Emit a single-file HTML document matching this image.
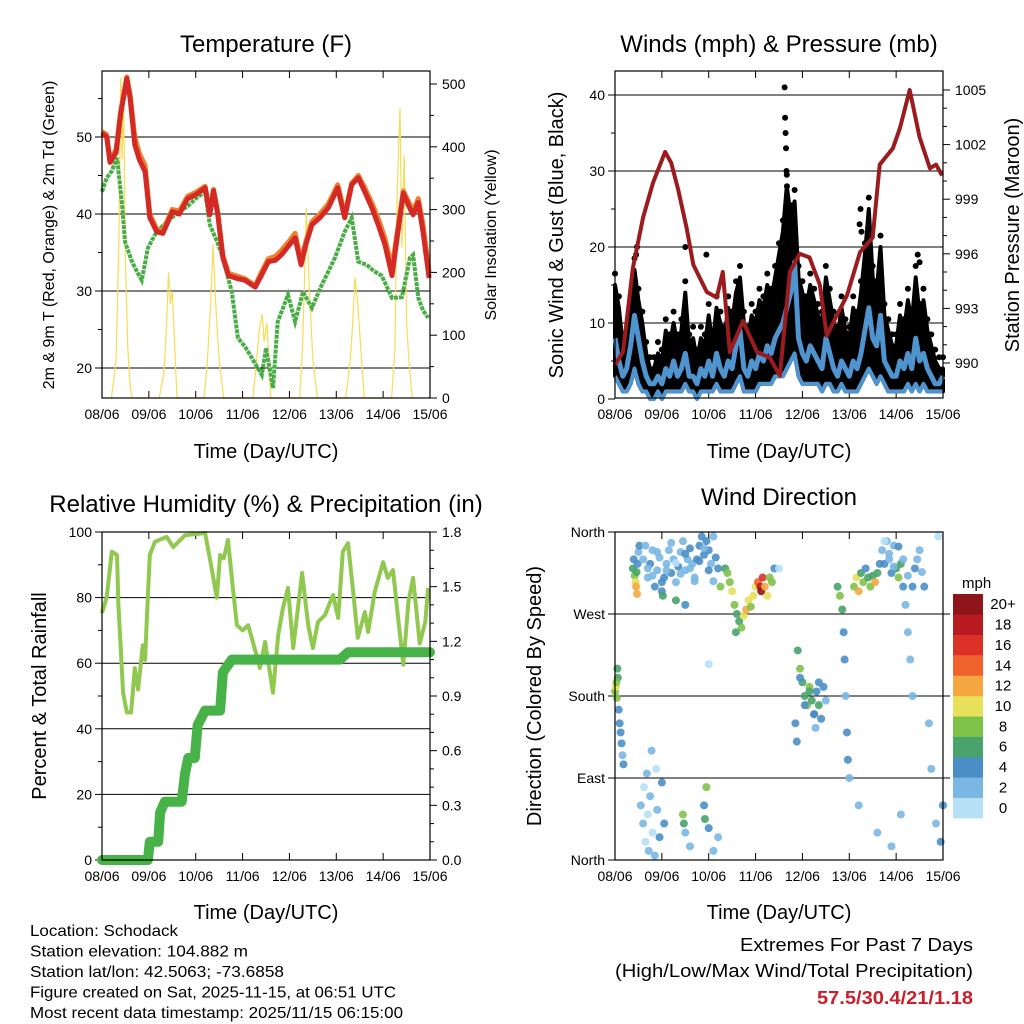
<!DOCTYPE html>
<html><head><meta charset="utf-8">
<style>
html,body{margin:0;padding:0;background:#fff;}
svg{display:block;font-family:"Liberation Sans",Arial,sans-serif;}
</style></head>
<body>
<svg id="chart" width="1024" height="1024" viewBox="0 0 1024 1024" xmlns="http://www.w3.org/2000/svg">
<rect width="1024" height="1024" fill="#fff"/>
<g id="layer"></g>
<text x="266" y="52" font-size="24" text-anchor="middle">Temperature (F)</text>
<text x="779" y="52" font-size="24" text-anchor="middle">Winds (mph) &amp; Pressure (mb)</text>
<text x="266" y="512" font-size="24" text-anchor="middle">Relative Humidity (%) &amp; Precipitation (in)</text>
<text x="779" y="505" font-size="24" text-anchor="middle">Wind Direction</text>
<text x="266" y="458" font-size="20" text-anchor="middle">Time (Day/UTC)</text>
<text x="779" y="458" font-size="20" text-anchor="middle">Time (Day/UTC)</text>
<text x="266" y="919" font-size="20" text-anchor="middle">Time (Day/UTC)</text>
<text x="779" y="919" font-size="20" text-anchor="middle">Time (Day/UTC)</text>
<text transform="translate(54,235) rotate(-90)" font-size="16" text-anchor="middle">2m &amp; 9m T (Red, Orange) &amp; 2m Td (Green)</text>
<text transform="translate(496,235) rotate(-90)" font-size="16" text-anchor="middle">Solar Insolation (Yellow)</text>
<text transform="translate(563,235) rotate(-90)" font-size="20" text-anchor="middle">Sonic Wind &amp; Gust (Blue, Black)</text>
<text transform="translate(1019,235) rotate(-90)" font-size="20" text-anchor="middle">Station Pressure (Maroon)</text>
<text transform="translate(46,696) rotate(-90)" font-size="20" text-anchor="middle">Percent &amp; Total Rainfall</text>
<text transform="translate(541,696) rotate(-90)" font-size="20" text-anchor="middle">Direction (Colored By Speed)</text>
<g font-size="16">
<text x="30" y="936" textLength="148" lengthAdjust="spacingAndGlyphs">Location: Schodack</text>
<text x="30" y="956.5" textLength="218" lengthAdjust="spacingAndGlyphs">Station elevation: 104.882 m</text>
<text x="30" y="977" textLength="254" lengthAdjust="spacingAndGlyphs">Station lat/lon: 42.5063; -73.6858</text>
<text x="30" y="997.5" textLength="366" lengthAdjust="spacingAndGlyphs">Figure created on Sat, 2025-11-15, at 06:51 UTC</text>
<text x="30" y="1018" textLength="373" lengthAdjust="spacingAndGlyphs">Most recent data timestamp: 2025/11/15 06:15:00</text>
</g>
<g font-size="18" text-anchor="end">
<text x="973" y="951" textLength="233" lengthAdjust="spacingAndGlyphs">Extremes For Past 7 Days</text>
<text x="973" y="977" textLength="358" lengthAdjust="spacingAndGlyphs">(High/Low/Max Wind/Total Precipitation)</text>
<text x="973" y="1004" fill="#c8202a" font-weight="bold" textLength="156" lengthAdjust="spacingAndGlyphs">57.5/30.4/21/1.18</text>
</g>
</svg>
<script>
// ---------- DATA ----------
const dayLabels = ["08/06","09/06","10/06","11/06","12/06","13/06","14/06","15/06"];
const tempTicks = [20,30,40,50];
const solarTicks = [0,100,200,300,400,500];
const windTicks = [0,10,20,30,40];
const pressTicks = [990,993,996,999,1002,1005];
const rhTicks = [0,20,40,60,80,100];
const rainTicks = ["0.0","0.3","0.6","0.9","1.2","1.5","1.8"];
const dirTicks = ["North","East","South","West","North"];
const speedLabels = ["0","2","4","6","8","10","12","14","16","18","20+"];

const tempT = [0,0.1,0.17,0.3,0.4,0.53,0.6,0.7,0.8,0.92,1.02,1.17,1.3,1.5,1.65,1.83,2.0,2.2,2.3,2.38,2.47,2.58,2.7,2.9,3.05,3.27,3.4,3.55,3.7,3.83,4.0,4.12,4.25,4.35,4.48,4.65,4.83,5.03,5.18,5.33,5.47,5.6,5.76,5.9,6.04,6.19,6.3,6.43,6.55,6.64,6.75,6.85,6.98];
const temp2m = [50.5,50,46.7,48,53,57.6,55,49,47,45.5,39.5,37.7,37.5,40.3,40,42,42.5,43.4,39.9,43,40,34.3,32,31.6,31.4,30.5,32,33.8,34,34.7,36,36.9,33.4,36,38.6,39.5,40.8,43.4,39.5,43.8,44.7,43,40.8,38.5,36,32,37,42.7,41,39.9,41.5,37.7,31.7];
const temp9m = [50.7,50.3,47,48.4,53.4,57.8,55.5,50,47.8,46.3,40,38,37.8,40.6,40.4,42.3,42.8,43.6,40.2,43.2,40.3,34.6,32.3,31.9,31.6,30.7,32.4,34.2,34.5,35.3,36.5,37.5,33.9,36.4,39,40,41.3,43.8,40,44,45,43.5,41.4,39.3,36.8,33,37.6,43,41.5,40.4,42,38.6,32.4];
const dewT = [0,0.1,0.2,0.32,0.43,0.49,0.64,0.75,0.85,0.98,1.13,1.3,1.49,1.65,1.83,2.0,2.2,2.3,2.45,2.56,2.77,2.9,3.05,3.2,3.41,3.5,3.65,3.75,3.97,4.12,4.29,4.48,4.69,4.97,5.18,5.33,5.47,5.65,5.8,5.97,6.19,6.4,6.57,6.64,6.75,6.85,6.96];
const dewVal = [42.9,44.7,45.5,47.3,41.2,36.4,33.8,32.5,31.4,35.6,37.3,38.5,39.5,40.3,41,42,42.9,38.6,36.5,34.7,29.9,23.9,22.8,21.3,19.1,22.6,17.4,26,29.5,26,29.9,27.8,30.8,34.3,37.7,39.5,33.8,33.4,32.6,32,29.1,29.2,34.3,34.7,29.1,27.5,26.5];
const solarT = [0.2,0.3,0.36,0.4,0.43,0.46,0.5,0.55,0.6,0.64, 1.22,1.32,1.38,1.42,1.46,1.5,1.6, 2.18,2.25,2.32,2.37,2.42,2.5,2.6, 3.22,3.3,3.36,3.42,3.46,3.52,3.6, 4.22,4.28,4.32,4.36,4.42,4.5,4.6, 5.2,5.3,5.35,5.4,5.46,5.52,5.6, 6.18,6.25,6.3,6.36,6.4,6.45,6.5,6.55,6.62];
const solarVal = [0,60,250,510,380,480,220,80,20,0, 0,40,120,200,150,170,0, 0,60,150,245,160,60,0, 0,60,110,133,90,120,0, 0,80,180,303,180,60,0, 0,60,120,192,150,80,0, 0,80,330,462,240,387,120,60,0];
const windT = Array.from({length:85},(_,i)=>i/12);
const windSpd = [8,5,3,4,7,11,8,5,3,2,2,3, 2,4,3,5,3,4,6,3,3,2,4,3, 5,3,6,4,3,5,4,7,9,4,3,5, 4,6,5,7,6,8,9,10,12,14,18,8, 6,5,7,6,5,4,8,6,4,3,5,4, 3,5,4,6,9,12,8,7,11,5,4,3, 3,5,4,6,4,8,5,6,4,3,2,2, 3];
const windLow = [3,2,1,1,2,4,2,1,1,0,0,1, 0,1,1,1,1,1,2,1,1,0,1,1, 1,1,2,1,1,1,1,2,3,1,1,1, 1,2,2,2,2,3,3,3,4,5,6,3, 2,2,2,2,2,1,2,2,1,1,2,1, 1,1,1,2,3,4,3,2,3,2,1,1, 1,1,1,2,1,2,1,2,1,1,1,1, 1];
const gustSpd = [15,12,7,6,12,17,13,10,6,4,4,6, 5,9,7,10,7,9,14,7,8,5,8,7, 11,7,12,10,8,12,10,14,16,10,8,11, 10,13,12,15,13,16,19,22,28,24,26,16, 14,12,15,13,11,10,16,13,10,8,12,9, 8,12,10,14,19,25,16,14,20,11,9,7, 7,11,9,13,10,16,11,13,9,7,5,4, 4];
const peakGustT = [3.62,3.63,3.64,3.65,3.66,3.67,0.45,0.47,1.5,1.95,5.22,5.24,5.26,6.46,6.5];
const peakGustV = [41,37,35,33,30,28,19,20,20,19,23,25,22,19,18];
const pressT = [0,0.17,0.38,0.6,0.81,1.07,1.2,1.35,1.53,1.67,1.96,2.17,2.3,2.45,2.73,3.03,3.3,3.52,3.73,3.94,4.15,4.37,4.52,4.73,4.95,5.23,5.5,5.65,5.93,6.08,6.29,6.5,6.72,6.85,6.98];
const pressVal = [989.9,990.6,995.2,998,999.9,1001.6,1001,999.5,997.4,995.4,993.9,993.6,995,990.6,992.3,990.6,990.3,989.3,995,996,995.8,994.3,991.5,992.6,993.7,996.1,996.9,1000.9,1001.8,1002.9,1005,1002.4,1000.7,1000.9,1000.3];
const rhT = [0,0.1,0.21,0.32,0.35,0.45,0.53,0.62,0.7,0.77,0.87,0.92,0.96,1.02,1.13,1.38,1.52,1.77,2.2,2.3,2.45,2.52,2.6,2.69,2.77,2.88,3.0,3.12,3.22,3.37,3.48,3.65,3.76,3.86,3.97,4.08,4.27,4.4,4.5,4.61,4.76,4.93,5.04,5.14,5.25,5.36,5.46,5.61,5.68,5.82,6.0,6.1,6.21,6.32,6.43,6.54,6.64,6.78,6.9,6.96];
const rhVal = [75.3,80,94,93,77.8,51,45,45,58.5,52,65.5,61,74.7,93,97,98.5,95.4,99,99.7,92,80,93,92,97.6,86,71.6,70,71.6,66.5,58.5,66.5,51,68.6,76.8,83,64.6,87.5,71.6,64.6,72.6,74.7,80.8,73.8,94,96.6,81.7,67.7,75.6,69.5,81.7,90.8,86,88.4,73.8,59.5,78.7,86,66,72.6,83];
const rainT = [0,0.98,1.02,1.2,1.24,1.34,1.7,1.77,1.84,1.98,2.04,2.2,2.52,2.58,2.77,5.08,5.25,7.0];
const rainVal = [0,0,0.1,0.1,0.26,0.32,0.32,0.47,0.56,0.56,0.74,0.82,0.82,1.03,1.1,1.1,1.14,1.14];
const dirT = [0,0.02,0.04,0.06,0.08,0.1,0.12,0.14,0.16,0.18,0.05,0.03,
0.38,0.4,0.42,0.44,0.45,0.46,0.48,0.5,0.52,0.47,
0.55,0.6,0.62,0.65,0.7,0.72,0.75,0.8,0.85,0.9,0.95,1.0,1.05,0.68,0.78,0.88,
0.6,0.65,0.7,0.75,0.8,0.85,0.9,0.95,1.0,1.05,1.1,1.15,1.2,1.25,1.3,1.35,1.4,1.45,1.5,1.55,1.6,1.65,1.7,1.75,1.8,1.85,1.9,1.95,2.0,2.05,2.1,2.15,2.2,1.02,1.3,2.25,
1.45,1.47,1.5,1.6,1.9,1.92,1.95,2.0,2.1,2.2,
2.35,2.4,2.45,2.5,2.55,2.6,2.65,2.7,2.75,2.8,2.85,2.9,2.95,3.0,2.58,
3.05,3.1,3.12,3.15,3.2,3.25,3.3,3.35,3.4,
3.9,3.95,4.0,4.05,4.1,4.15,4.2,4.25,4.3,4.35,4.4,4.45,4.5,3.85,3.88,4.28,
4.75,4.8,4.85,4.88,4.9,4.92,4.95,4.97,5.0,
5.1,5.15,5.2,5.25,5.3,5.35,5.4,5.45,5.5,5.55,5.6,5.65,
5.7,5.75,5.8,5.85,5.9,5.95,6.0,6.05,6.1,6.15,6.2,6.25,6.3,6.35,6.4,
6.5,6.6,6.7,6.75,6.85,6.9,6.95,7.0,5.2,5.6,5.9,6.1,2.0,1.5,3.5,
0.7,0.8,0.9,1.0,1.1,1.2,1.3,1.4,1.5,1.6,1.7,1.8,1.9,2.0,2.1,5.75,5.85,5.95,6.05,6.15,6.25,6.35,6.45,6.55,3.95,4.05,4.15,4.25,4.35];
const dirDeg = [185,190,178,200,165,150,140,128,115,105,210,195,
320,330,312,305,300,316,325,338,345,292,
60,40,80,20,50,10,70,30,5,55,25,85,40,95,120,100,
330,345,310,325,340,300,318,332,295,310,325,340,315,330,305,322,338,350,318,330,342,325,310,330,345,355,335,350,340,325,355,332,320,290,285,300,
50,40,30,15,60,45,80,35,10,25,
320,315,305,295,280,270,262,255,268,275,285,278,290,300,250,
305,300,295,310,300,290,310,305,320,
230,210,195,180,170,190,175,160,185,170,155,190,175,150,130,145,
300,290,275,250,220,180,140,110,90,
300,310,295,315,305,320,310,300,312,305,315,325,
340,325,350,330,315,345,320,310,325,300,280,250,220,180,320,
340,300,150,100,40,355,20,60,60,30,15,50,215,280,320,
320,312,338,305,318,348,326,314,336,320,306,328,342,318,306,350,336,322,344,330,312,300,330,316,200,170,185,160,195];
const dirSpd = [9,10,8,7,5,4,4,4,3,4,6,8,
6,5,8,10,12,7,4,3,4,12,
2,2,1,1,0,3,2,1,3,2,4,4,4,2,2,1,
2,2,3,4,2,4,3,2,5,4,3,2,4,3,2,4,3,2,3,2,4,3,2,4,5,4,4,5,4,3,2,4,5,7,6,9,
8,6,3,2,4,6,8,4,2,3,
6,8,9,10,8,7,6,8,10,12,11,9,10,11,6,
14,18,20,16,12,10,9,8,4,
6,8,7,6,8,9,7,5,4,6,4,5,3,4,4,3,
6,8,6,4,4,3,4,4,3,
8,10,12,6,8,4,6,8,7,12,6,4,
2,4,2,3,5,3,6,8,7,4,3,2,2,2,5,
2,4,2,2,2,1,4,4,2,2,2,3,1,4,1,
2,3,2,4,2,3,1,2,4,3,2,4,3,5,2,1,3,2,4,2,3,4,2,3,5,4,6,5,4];
const speedColors = ["#b5e0f6","#7ab7e3","#4a8ec6","#48a46a","#7fc24a","#e7e05a","#f6a640","#f0622b","#dc3127","#b81b22","#8e1518"];

// ---------- HELPERS ----------
const NS="http://www.w3.org/2000/svg";
const layer=document.getElementById('layer');
function mk(tag,attrs,parent){const e=document.createElementNS(NS,tag);for(const k in attrs)e.setAttribute(k,attrs[k]);(parent||layer).appendChild(e);return e;}
function lin(d0,d1,r0,r1){return v=>r0+(v-d0)*(r1-r0)/(d1-d0);}
function pathFrom(xs,ys,sx,sy){return xs.map((t,i)=>(i?'L':'M')+sx(t).toFixed(1)+','+sy(ys[i]).toFixed(1)).join('');}
function txt(x,y,s,size,anchor,parent){const e=mk('text',{x:x,y:y,'font-size':size,'text-anchor':anchor||'middle'},parent);e.textContent=s;return e;}

function frame(L,T,R,B,name){
  const g=mk('g',{});
  
  
  const sx=lin(0,7,L,R);
  for(let i=0;i<dayLabels.length;i++){
    const x=sx(i);
    mk('line',{x1:x,y1:B,x2:x,y2:B-7,stroke:'#000','stroke-width':1},g);
    mk('line',{x1:x,y1:T,x2:x,y2:T+7,stroke:'#000','stroke-width':1},g);
    const lb=txt(x,B+21,dayLabels[i],14,'middle',g);
    
    
  }
  return {g,sx};
}
function border(L,T,R,B,g){mk('rect',{x:L,y:T,width:R-L,height:B-T,fill:'none',stroke:'#000','stroke-width':1.2},g);}

// ---------- PANEL 1: TEMPERATURE ----------
(function(){
  const L=102,T=71,R=430,B=398;
  const f=frame(L,T,R,B,'temperature-panel');const g=f.g,sx=f.sx;
  const sy=lin(20,50,368,137), ss=lin(0,500,398,84);
  tempTicks.forEach(v=>{mk('line',{x1:L,x2:R,y1:sy(v),y2:sy(v),stroke:'#000','stroke-width':1},g);mk('line',{x1:L-7,x2:L,y1:sy(v),y2:sy(v),stroke:'#000'},g);
    const l=txt(L-10,sy(v)+5,String(v),14,'end',g);
    mk('line',{x1:L-4,x2:L,y1:sy(v+5),y2:sy(v+5),stroke:'#000'},g);});
  solarTicks.forEach(v=>{mk('line',{x1:R,x2:R+7,y1:ss(v),y2:ss(v),stroke:'#000'},g);
    const l=txt(R+12,ss(v)+5,String(v),14,'start',g);
    if(v<500)mk('line',{x1:R,x2:R+4,y1:ss(v+50),y2:ss(v+50),stroke:'#000'},g);});
  const sol=mk('path',{d:pathFrom(solarT,solarVal,sx,ss),fill:'none',stroke:'#f7dc55','stroke-width':1.2},g);
  
  const d=mk('path',{d:pathFrom(dewT,dewVal,sx,sy),fill:'none',stroke:'#49ad45','stroke-width':4,'stroke-dasharray':'4 1'},g);
  
  const o=mk('path',{d:pathFrom(tempT,temp9m,sx,sy),fill:'none',stroke:'#f07f2e','stroke-width':5,'stroke-linejoin':'round'},g);
  
  const r=mk('path',{d:pathFrom(tempT,temp2m,sx,sy),fill:'none',stroke:'#d42a26','stroke-width':5,'stroke-linejoin':'round'},g);
  
  border(L,T,R,B,g);
})();

// ---------- PANEL 2: WINDS ----------
(function(){
  const L=615,T=71,R=943,B=398;
  const f=frame(L,T,R,B,'winds-panel');const g=f.g,sx=f.sx;
  const sy=lin(0,40,399,95), sp=lin(990,1005,363,90);
  windTicks.forEach(v=>{if(v>0)mk('line',{x1:L,x2:R,y1:sy(v),y2:sy(v),stroke:'#000'},g);mk('line',{x1:L-7,x2:L,y1:sy(v),y2:sy(v),stroke:'#000'},g);
    const l=txt(L-10,sy(v)+5,String(v),14,'end',g);
    if(v<40)mk('line',{x1:L-4,x2:L,y1:sy(v+5),y2:sy(v+5),stroke:'#000'},g);});
  pressTicks.forEach(v=>{mk('line',{x1:R,x2:R+7,y1:sp(v),y2:sp(v),stroke:'#000'},g);
    const l=txt(R+12,sp(v)+5,String(v),14,'start',g);
    if(v<1005){mk('line',{x1:R,x2:R+4,y1:sp(v+1),y2:sp(v+1),stroke:'#000'},g);mk('line',{x1:R,x2:R+4,y1:sp(v+2),y2:sp(v+2),stroke:'#000'},g);}});
  const top=pathFrom(windT,gustSpd,sx,sy);
  const bot=windT.slice().reverse().map((t,i)=>'L'+sx(t).toFixed(1)+','+sy(windLow[windLow.length-1-i]).toFixed(1)).join('');
  const area=mk('path',{d:top+bot+'Z',fill:'#000',stroke:'#000','stroke-width':4,'stroke-linejoin':'round'},g);
  
  windT.forEach((t,i)=>{const c=mk('circle',{cx:sx(t),cy:sy(gustSpd[i]+1.5),r:3,fill:'#000'},g);
    });
  peakGustT.forEach((t,i)=>{const c=mk('circle',{cx:sx(t),cy:sy(peakGustV[i]),r:3,fill:'#000'},g);
    });
  const w=mk('path',{d:pathFrom(windT,windSpd,sx,sy),fill:'none',stroke:'#4f94cf','stroke-width':5,'stroke-linejoin':'round'},g);
  
  const wl=mk('path',{d:pathFrom(windT,windLow,sx,sy),fill:'none',stroke:'#4f94cf','stroke-width':4,'stroke-linejoin':'round'},g);
  
  const p=mk('path',{d:pathFrom(pressT,pressVal,sx,sp),fill:'none',stroke:'#9a1c1f','stroke-width':4,'stroke-linejoin':'round'},g);
  
  border(L,T,R,B,g);
})();

// ---------- PANEL 3: RH & RAIN ----------
(function(){
  const L=102,T=532,R=430,B=860;
  const f=frame(L,T,R,B,'humidity-panel');const g=f.g,sx=f.sx;
  const sy=lin(0,100,860,532), sr=lin(0,1.8,860,532);
  rhTicks.forEach(v=>{if(v>0&&v<100)mk('line',{x1:L,x2:R,y1:sy(v),y2:sy(v),stroke:'#000'},g);mk('line',{x1:L-7,x2:L,y1:sy(v),y2:sy(v),stroke:'#000'},g);
    const l=txt(L-10,sy(v)+5,String(v),14,'end',g);
    if(v<100)mk('line',{x1:L-4,x2:L,y1:sy(v+10),y2:sy(v+10),stroke:'#000'},g);});
  rainTicks.forEach((s,i)=>{const y=sr(i*0.3);mk('line',{x1:R,x2:R+7,y1:y,y2:y,stroke:'#000'},g);
    const l=txt(R+12,y+5,s,14,'start',g);
    if(i<6){mk('line',{x1:R,x2:R+4,y1:sr(i*0.3+0.1),y2:sr(i*0.3+0.1),stroke:'#000'},g);mk('line',{x1:R,x2:R+4,y1:sr(i*0.3+0.2),y2:sr(i*0.3+0.2),stroke:'#000'},g);}});
  const rh=mk('path',{d:pathFrom(rhT,rhVal,sx,sy),fill:'none',stroke:'#90c850','stroke-width':4,'stroke-linejoin':'round'},g);
  
  const rn=mk('path',{d:pathFrom(rainT,rainVal,sx,sr),fill:'none',stroke:'#47b247','stroke-width':10,'stroke-linejoin':'round','stroke-linecap':'round'},g);
  
  border(L,T,R,B,g);
})();

// ---------- PANEL 4: WIND DIRECTION ----------
(function(){
  const L=615,T=532,R=943,B=860;
  const f=frame(L,T,R,B,'wind-direction-panel');const g=f.g,sx=f.sx;
  const sy=lin(0,360,860,532);
  dirTicks.forEach((s,i)=>{const y=sy(i*90);if(i>0&&i<4)mk('line',{x1:L,x2:R+7,y1:y,y2:y,stroke:'#000'},g);mk('line',{x1:L-7,x2:L,y1:y,y2:y,stroke:'#000'},g);
    const l=txt(L-10,y+5,s,14,'end',g);});
  dirT.forEach((t,i)=>{const ci=Math.min(10,Math.floor(dirSpd[i]/2));
    const c=mk('circle',{cx:sx(t),cy:sy(dirDeg[i]),r:4,fill:speedColors[ci],'fill-opacity':0.9},g);
    });
  border(L,T,R,B,g);
  const cb=mk('g',{});
  
  
  txt(962,588,'mph',15,'start',cb);
  const h=224/11;
  speedLabels.forEach((s,i)=>{const y=818-(i+1)*h;
    const r=mk('rect',{x:953,y:y,width:30,height:h+0.3,fill:speedColors[i]},cb);
    
    const l=txt(1003,y+h/2+5,s,15,'middle',cb);});
})();
</script>
</body></html>
